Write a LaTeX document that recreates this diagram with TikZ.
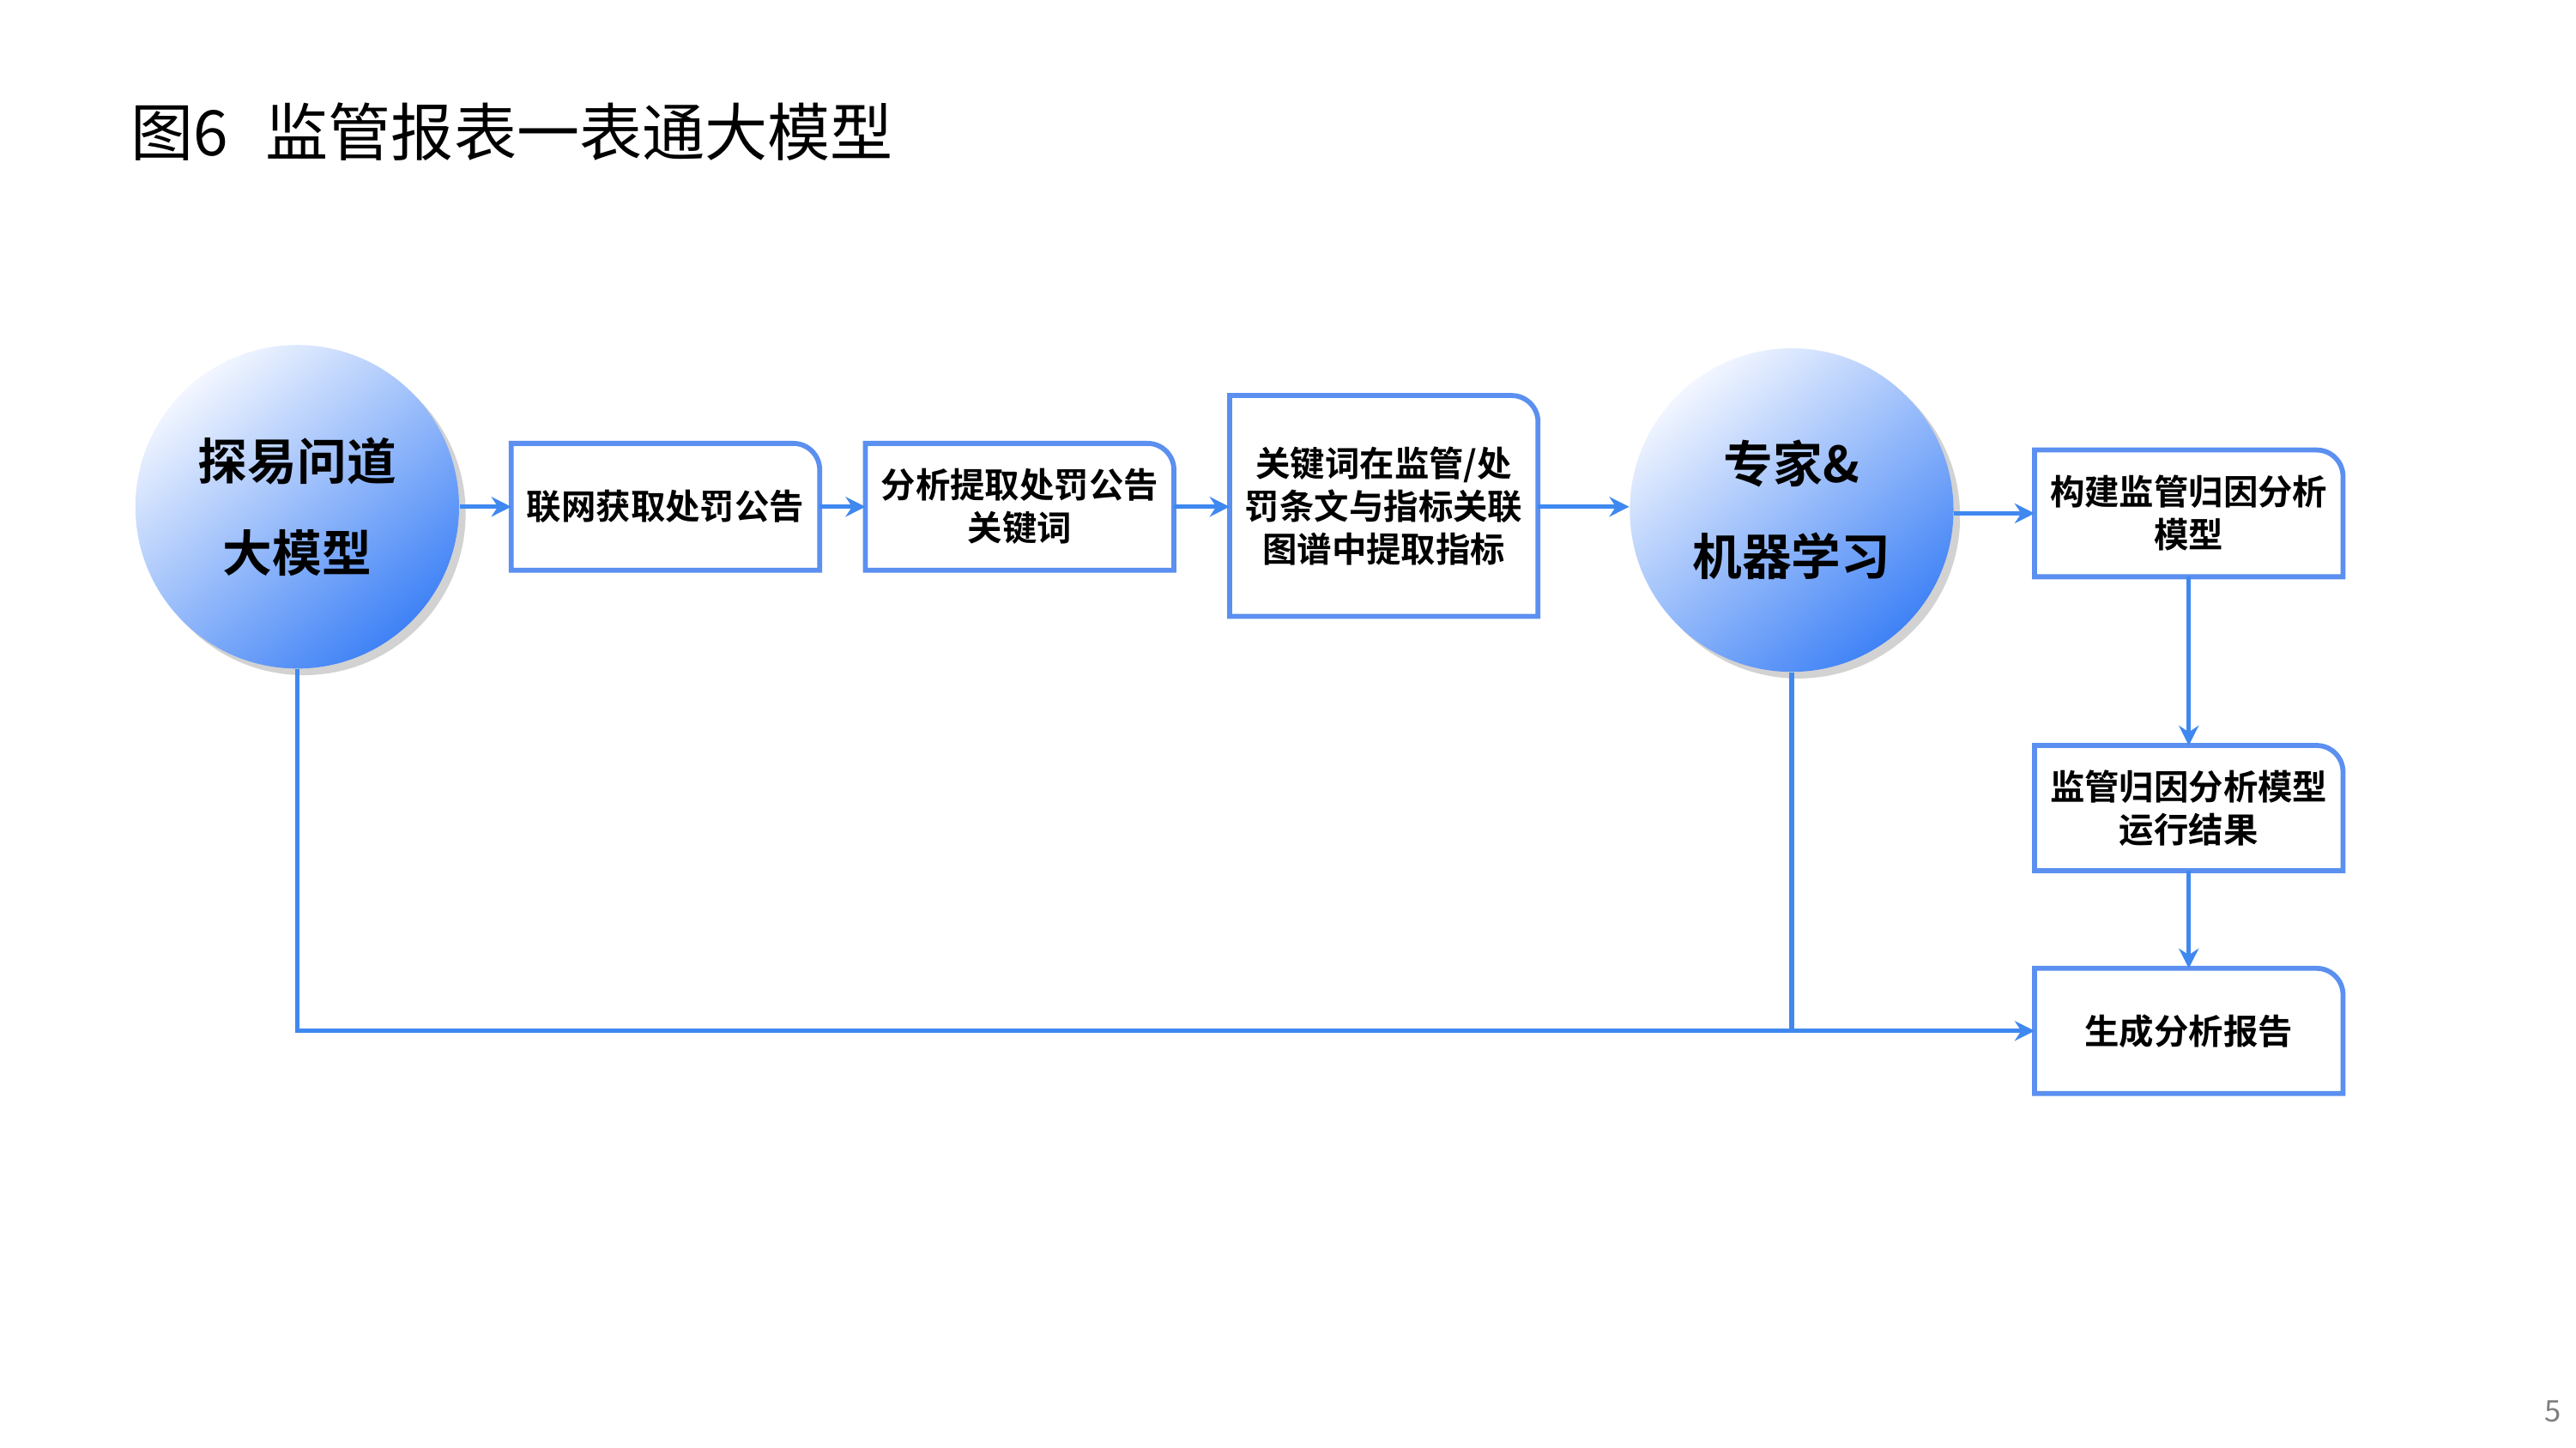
\documentclass[tikz,border=0pt]{standalone}
\usepackage{fontspec}
\setmainfont{Noto Sans CJK SC}[BoldFont={Noto Sans CJK SC Bold}]
\usetikzlibrary{shadows,arrows.meta}
\definecolor{ln}{HTML}{3F88F0}
\definecolor{bx}{HTML}{5B8FF0}
\definecolor{cl}{HTML}{F2F6FF}
\definecolor{cd}{HTML}{3F82F6}
\tikzset{
  boxn/.style={minimum width=93pt,inner sep=1pt,align=center,font=\bfseries\fontsize{10.5}{13}\selectfont},
  circn/.style={circle,minimum size=98pt,inner sep=0pt,align=center,font=\bfseries\fontsize{15}{28}\selectfont,
    top color=cl,bottom color=cd,shading angle=40,drop shadow={shadow xshift=2pt,shadow yshift=-2pt,opacity=0.35}},
  con/.style={draw=ln,line width=1.4pt,-{Stealth[length=6pt,width=6pt]}},
  edge/.style={draw=bx,line width=1.5pt}
}
\newcommand{\tbox}[1]{\draw[edge] (#1.south west) -- (#1.north west) -- ([xshift=-8pt]#1.north east) arc[start angle=90,end angle=0,radius=8pt] -- (#1.south east) -- cycle;}
\begin{document}
\begin{tikzpicture}[x=0.5pt,y=-0.5pt]
\useasboundingbox[fill=white] (0,0) rectangle (1560,877);
\node[anchor=west,font=\fontsize{19}{22}\selectfont] (title) at (72,80) {图6\hspace{0.6em}监管报表一表通大模型};
\node[circn] (c1) at (180,307) {探易问道\\大模型};
\node[circn] (c2) at (1085,309) {专家\&\\机器学习};
\node[boxn,minimum height=38pt] (b1) at (403,307) {联网获取处罚公告};
\node[boxn,minimum height=38pt] (b2) at (617.5,307) {分析提取处罚公告\\关键词};
\node[boxn,minimum height=66.5pt] (b3) at (838,306.5) {关键词在监管/处\\罚条文与指标关联\\图谱中提取指标};
\node[boxn,minimum height=38pt] (b4) at (1325.5,311) {构建监管归因分析\\模型};
\node[boxn,minimum height=37.5pt] (b5) at (1325.5,489.5) {监管归因分析模型\\运行结果};
\node[boxn,minimum height=37.5pt] (b6) at (1325.5,624.5) {生成分析报告};
\tbox{b1}\tbox{b2}\tbox{b3}\tbox{b4}\tbox{b5}\tbox{b6}
\node[text=gray,font=\fontsize{9}{10}\selectfont] (pg) at (1546,855) {5};
\draw[con] (c1.east|-b1.west) -- (b1.west);
\draw[con] (b1) -- (b2);
\draw[con] (b2.east) -- (b3.west|-b2.east);
\draw[con] (b3.east|-b2.east) -- (c2.west|-b2.east);
\draw[con] (c2.east|-b4.west) -- (b4.west);
\draw[con] (b4) -- (b5);
\draw[con] (b5) -- (b6);
\coordinate (j) at (c2.south|-b6.west);
\draw[con] (c1.south) |- (b6.west);
\draw[draw=ln,line width=1.4pt] (c2.south) -- (j);
\end{tikzpicture}
\end{document}
